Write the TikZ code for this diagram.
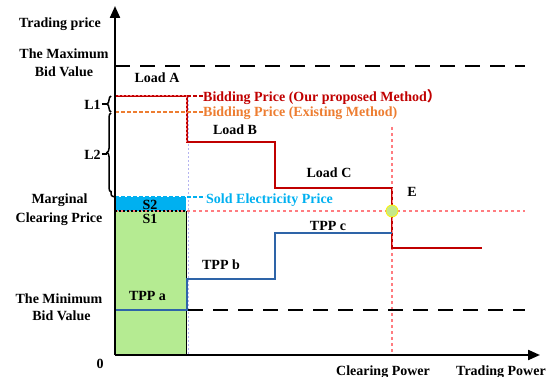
\documentclass[tikz,border=0pt]{standalone}
\usepackage{fontspec}
\setmainfont{Liberation Serif}
\newfontfamily\cjkfont{Noto Sans CJK SC}
\usetikzlibrary{arrows.meta,decorations.pathreplacing}
\definecolor{cred}{HTML}{C00000}
\definecolor{corange}{HTML}{ED7D31}
\definecolor{ccyan}{HTML}{00B0F0}
\definecolor{cblue}{HTML}{2E64A8}
\definecolor{cgreen}{HTML}{B5EB92}
\definecolor{cpink}{HTML}{FF7C80}
\definecolor{clav}{HTML}{B4B4F0}
\definecolor{cdot}{HTML}{C5E88A}
\begin{document}
\begin{tikzpicture}[x=1pt,y=-1pt,
  lbl/.style={font=\fontsize{14}{16}\selectfont\bfseries, inner sep=0pt, anchor=base},
  lbll/.style={lbl, anchor=base west},
  axisline/.style={line width=2.2pt, -{Triangle[length=12pt,width=10pt]}},
  limitline/.style={line width=2pt, dash pattern=on 15pt off 10pt},
  gridpink/.style={cpink, line width=1.6pt, dash pattern=on 3pt off 3pt},
  gridlav/.style={clav, line width=1pt, dash pattern=on 2pt off 2pt},
  bidline/.style={cred, line width=1.8pt},
  tppline/.style={cblue, line width=1.8pt},
  leader/.style={line width=1.6pt, dash pattern=on 3.5pt off 2.5pt},
  bracestyle/.style={line width=1.5pt, decorate, decoration={brace, amplitude=4pt}}
]
\useasboundingbox (0,0) rectangle (559,377);

% named coordinates
\coordinate (O) at (115,355);
\coordinate (ytip) at (115,6);
\coordinate (xtip) at (540,355);
\coordinate (mx0) at (115,66);  \coordinate (mx1) at (525,66);
\coordinate (mn0) at (188,310); \coordinate (mn1) at (525,310);
\coordinate (E) at (392,211);

% areas
\fill[cgreen] (115,211) rectangle (186,355);
\fill[ccyan] (115,197) rectangle (186,211);
\draw[line width=0.8pt] (186,211) -- (186,355);

% grid dotted lines
\draw[gridlav] (188,96) -- (188,355);
\draw[gridpink] (115,211) -- (525,211);
\draw[gridpink] (392,127) -- (392,355);

% limits
\draw[limitline] (mx0) -- (mx1);
\draw[limitline] (mn0) -- (mn1);

% bidding curve
\draw[bidline] (115,96) -- (187,96) -- (187,142) -- (275,142) -- (275,188)
  -- (392,188) -- (392,248) -- (482,248);
\draw[cpink, line width=1pt, dash pattern=on 2pt off 2pt] (118,96) -- (186,96) -- (186,142);
\draw[cpink, line width=1pt, dash pattern=on 3pt off 3pt] (392,188) -- (392,248);

% tpp curve
\draw[tppline] (115,310) -- (187,310) -- (187,279) -- (275,279) -- (275,233) -- (392,233);

% leaders
\draw[leader, cred] (187,96) -- (203,96);
\draw[leader, corange] (115,112) -- (203,112);
\draw[leader, ccyan] (115,197) -- (205,197);
\draw[line width=1.4pt, dash pattern=on 2pt off 2pt] (115,211) -- (186,211);

% equilibrium point
\fill[cdot, draw=yellow, line width=0.8pt] (E) circle (6);

% axes
\draw[axisline] (O) -- (ytip);
\draw[axisline] (O) -- (xtip);

% braces
\draw[bracestyle] (111,112) -- (111,96);
\draw[bracestyle] (111,192) -- (111,113);
\draw[line width=1.5pt] (111,191) .. controls (111,196) .. (115,197);

% labels
\node[lbl] (ylab) at (60,28) {Trading price};
\node[lbl] (max1) at (64,59) {The Maximum};
\node[lbl] (max2) at (64,77) {Bid Value};
\node[lbl] (loadA) at (157,83) {Load A};
\node[lbl] (L1) at (92.5,110) {L1};
\node[lbl] (L2) at (92.5,159) {L2};
\draw[line width=1.4pt] (L1.east |- 0,104) ++(1,0) -- (107,104);
\draw[line width=1.4pt] (L2.east |- 0,154) ++(1,0) -- (107,154);
\node[lbl] (loadB) at (235,135) {Load B};
\node[lbll, text=cred] (bidp) at (203,102) {Bidding Price (Our proposed Method{\cjkfont ）}};
\node[lbll, text=corange] (bide) at (203,117) {Bidding Price (Existing Method)};
\node[lbl] (loadC) at (329,177) {Load C};
\node[lbl] (Elab) at (412,196) {E};
\node[lbll, text=ccyan] (sold) at (206,203) {Sold Electricity Price};
\node[lbl] (marg1) at (59.5,203) {Marginal};
\node[lbl] (marg2) at (59,222) {Clearing Price};
\node[lbl] (S2) at (150,209) {S2};
\node[lbl] (S1) at (150,223) {S1};
\node[lbl] (tppb) at (221,269) {TPP b};
\node[lbl] (tppa) at (147.5,300) {TPP a};
\node[lbl] (tppc) at (328,230) {TPP c};
\node[lbl] (min1) at (59,303) {The Minimum};
\node[lbl] (min2) at (61.5,320) {Bid Value};
\node[lbl] (zero) at (100,368) {0};
\node[lbl] (cpow) at (383,375) {Clearing Power};
\node[lbl] (tpow) at (501,375) {Trading Power};
\end{tikzpicture}
\end{document}
